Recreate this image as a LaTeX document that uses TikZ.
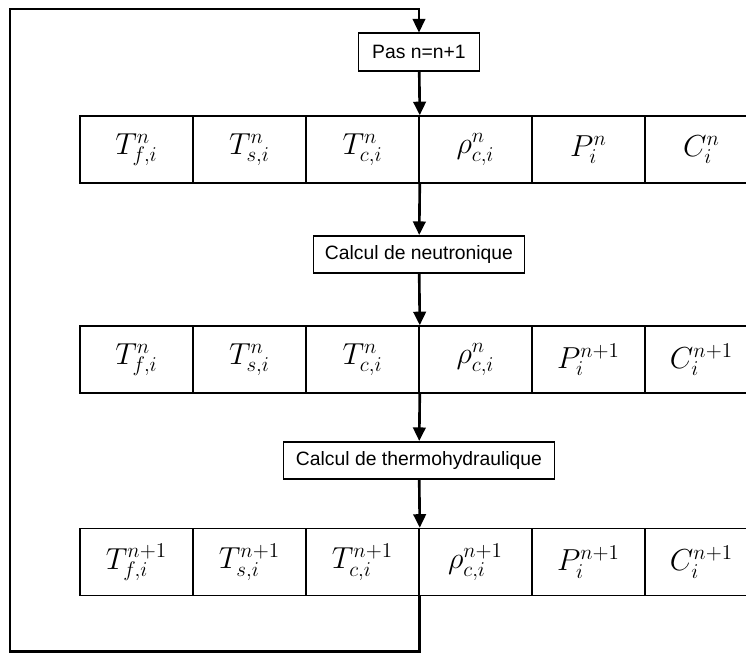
\documentclass[tikz,border=0pt]{standalone}
\usepackage{fontspec}
\setmainfont{Liberation Sans}
\usetikzlibrary{shapes,arrows,arrows.meta,positioning,calc}
\tikzstyle{cellblock}=[draw, rectangle, line width=0.9pt, minimum height=1.34cm, minimum width=2.26cm, inner sep=0pt, font=\fontsize{17}{20}\selectfont]
\tikzstyle{stepblock}=[draw, fill=white, rectangle, line width=0.9pt, minimum height=0.75cm, inner sep=1mm, font=\fontsize{11}{13}\selectfont]
\tikzstyle{flow}=[line width=1.5pt]

\begin{document}
\begin{tikzpicture}[auto, node distance=2.26cm, >={Triangle[width=2.5mm,length=2.7mm]}]
      \useasboundingbox (-8.38,1.04) rectangle (6.54,-12.02);
      \node[stepblock, minimum width=2.42cm] (pas) {Pas n=n+1};
      % state at step n
      \node[cellblock] (t1a) at (-5.65,-1.95) {$T^n_{f,i}$};
      \node[cellblock, right of=t1a] (t1b) {$T^n_{s,i}$};
      \node[cellblock, right of=t1b] (t1c) {$T^n_{c,i}$};
      \node[cellblock, right of=t1c] (t1d) {$\rho^n_{c,i}$};
      \node[cellblock, right of=t1d] (t1e) {$P^n_i$};
      \node[cellblock, right of=t1e] (t1f) {$C^n_i$};
      \node[stepblock, minimum width=4.22cm, below of=pas, node distance=4.05cm] (neutro) {Calcul de neutronique};
      % after neutronics
      \node[cellblock, below of=t1a, node distance=4.2cm] (t2a) {$T^n_{f,i}$};
      \node[cellblock, right of=t2a] (t2b) {$T^n_{s,i}$};
      \node[cellblock, right of=t2b] (t2c) {$T^n_{c,i}$};
      \node[cellblock, right of=t2c] (t2d) {$\rho^n_{c,i}$};
      \node[cellblock, right of=t2d] (t2e) {$P^{n+1}_i$};
      \node[cellblock, right of=t2e] (t2f) {$C^{n+1}_i$};
      \node[stepblock, minimum width=5.42cm, below of=pas, node distance=8.17cm] (thermo) {Calcul de thermohydraulique};
      % after thermal-hydraulics
      \node[cellblock, below of=t2a, node distance=4.05cm] (t3a) {$T^{n+1}_{f,i}$};
      \node[cellblock, right of=t3a] (t3b) {$T^{n+1}_{s,i}$};
      \node[cellblock, right of=t3b] (t3c) {$T^{n+1}_{c,i}$};
      \node[cellblock, right of=t3c] (t3d) {$\rho^{n+1}_{c,i}$};
      \node[cellblock, right of=t3d] (t3e) {$P^{n+1}_i$};
      \node[cellblock, right of=t3e] (t3f) {$C^{n+1}_i$};
      \coordinate (loopbl) at (-8.18,-11.99);
      \coordinate (looptl) at (-8.18,0.86);
      \draw[flow,->] (pas) -- (t1c.north east);
      \draw[flow,->] (t1c.south east) -- (neutro);
      \draw[flow,->] (neutro) -- (t2c.north east);
      \draw[flow,->] (t2c.south east) -- (thermo);
      \draw[flow,->] (thermo) -- (t3c.north east);
      \draw[flow,->] (t3c.south east) |- (loopbl) -- (looptl) -| (pas.north);
\end{tikzpicture}
\end{document}
